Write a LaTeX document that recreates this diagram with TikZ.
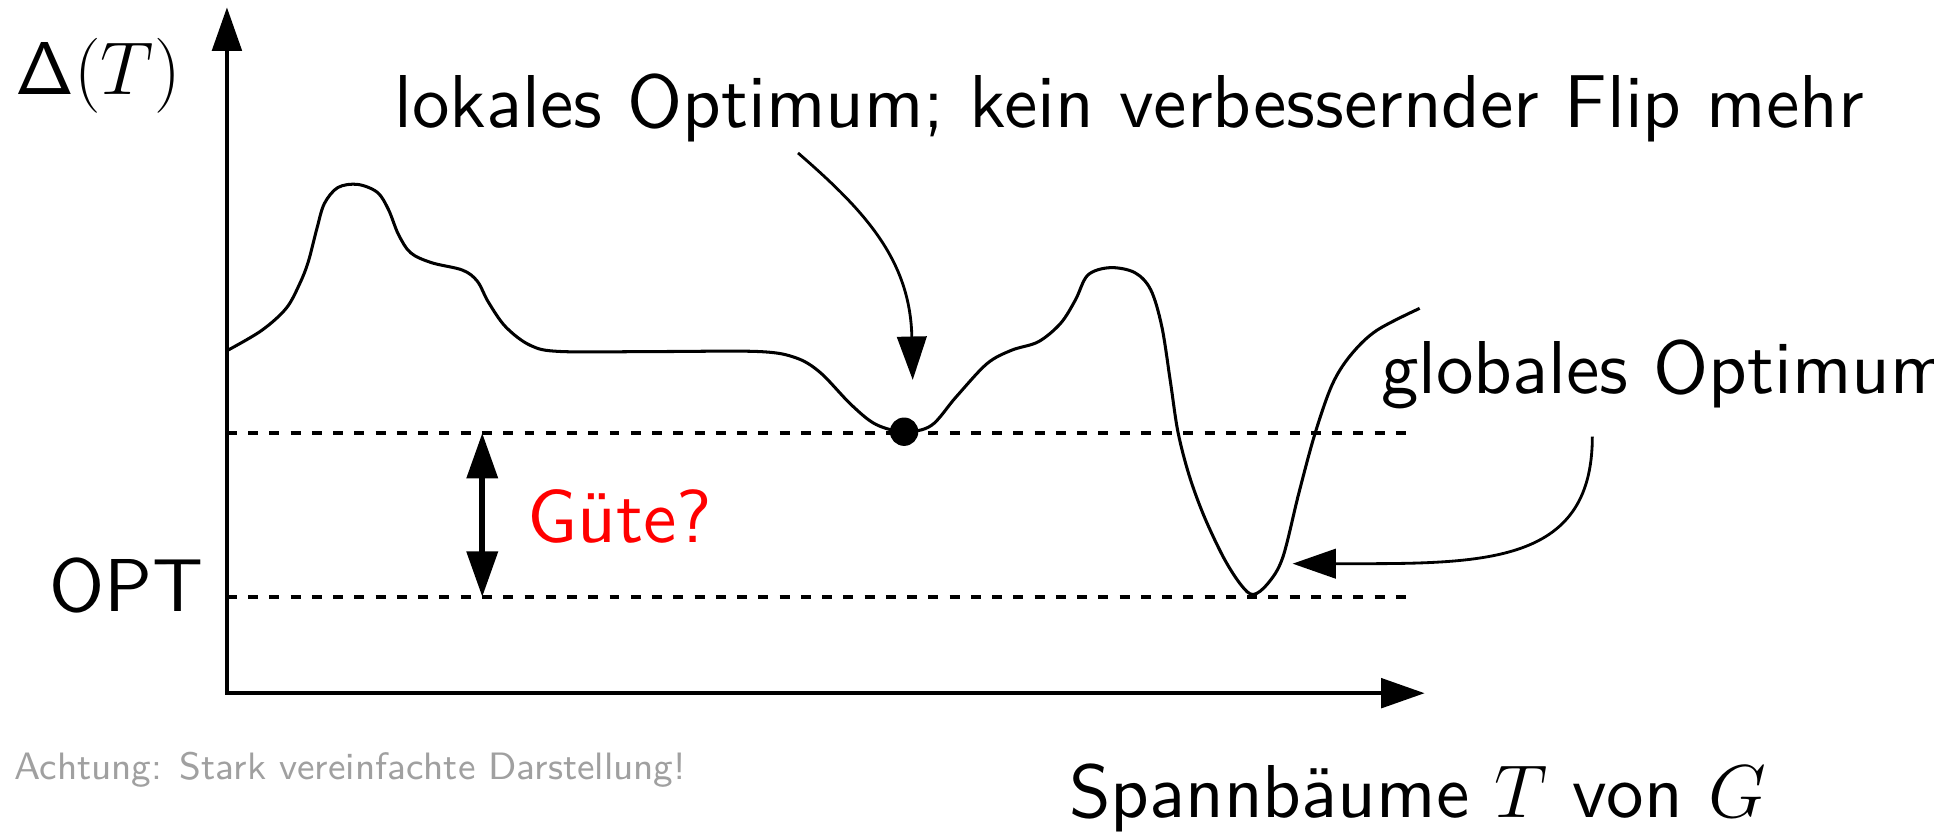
\documentclass[tikz,border=0pt]{standalone}
\usetikzlibrary{arrows.meta}
\definecolor{notegray}{RGB}{160,160,160}
\font\bigsf="[lmsans10-regular]:+tlig;" at 17.28pt
\begin{document}
\begin{tikzpicture}[x=0.01cm,y=-0.01cm,
  big/.style={font=\fontsize{17.28}{20}\selectfont\bigsf, inner sep=0pt, anchor=base west},
  small/.style={font=\fontsize{8.8}{10}\selectfont\sffamily, inner sep=0pt, anchor=base west, text=notegray},
  tipA/.tip={Triangle[length=10pt,width=6.8pt]},
  tipB/.tip={Triangle[length=10.5pt,width=7pt]},
  axis/.style={line width=0.8pt, tipA-tipA, line join=miter},
  curve/.style={line width=0.7pt, line join=round},
  guide/.style={line width=0.8pt, dash pattern=on 2.3pt off 2.6pt},
  ann/.style={line width=0.65pt, -tipA},
  gap/.style={line width=1.35pt, tipB-tipB},
  dot/.style={circle, fill=black, inner sep=0pt, minimum size=0.23cm},
]
\useasboundingbox (0,0) rectangle (1568,675);

% axes
\coordinate (O) at (184,562);
\coordinate (ytop) at (184,6);
\coordinate (xend) at (1155,562);
\draw[axis] (ytop) -- (O) -- (xend);

% guide lines
\coordinate (d1a) at (184,351);
\coordinate (d1b) at (1145,351);
\coordinate (d2a) at (184,484);
\coordinate (d2b) at (1145,484);
\draw[guide] (d1a) -- (d1b);
\draw[guide] (d2a) -- (d2b);

% landscape curve
\draw[curve] plot[smooth, tension=0.55] coordinates {
 (184.6,284) (212,268) (232,250) (243,230) (250,212) (257,185) (263,165)
 (274,152) (290,149.5) (306,156) (315,170) (323,190) (333,205) (350,213)
 (375,219) (387,228) (396,245) (410,265) (430,280) (455,285) (535,285)
 (615,285) (645,290) (665,302) (690,328) (710,344) (733,350) (755,345)
 (775,322) (800,295) (820,284) (842,277) (860,262) (872,243) (882,223)
 (900,217) (920,221) (933,235) (942,265) (949,310) (955,350) (964,385)
 (976,418) (992,452) (1006,474) (1016,482) (1028,473) (1040,452)
 (1053,400) (1066,352) (1080,312) (1095,288) (1116,268) (1151,250)};

% local optimum dot
\node[dot] (lopt) at (733,350) {};

% quality gap arrow
\coordinate (g1) at (391,484);
\coordinate (g2) at (391,351);
\draw[gap] (g1) -- (g2);

% labels
\node[big] (ylab) at (12,77) {$\mathsf{\Delta}(T)$};
\node[big] (lok) at (319,103) {lokales Optimum; kein verbessernder Flip mehr};
\node[big] (glob) at (1119,319) {globales Optimum};
\node[big, anchor=base east] (opt) at (166,496) {OPT};
\node[big, text=red] (gute) at (427,440) {Güte?};
\node[big] (xlab) at (866,663) {Spannbäume $T$ von $G$};
\node[small] (note) at (11,632) {Achtung: Stark vereinfachte Darstellung!};

% annotation arrows
\coordinate (la) at (647,124);
\coordinate (lb) at (740,308);
\draw[ann] (la) .. controls (700,170) and (738,210) .. (lb);
\coordinate (ga) at (1291,354);
\coordinate (gb) at (1048,457);
\draw[ann] (ga) .. controls (1291,460) and (1200,457) .. (gb);
\end{tikzpicture}
\end{document}
